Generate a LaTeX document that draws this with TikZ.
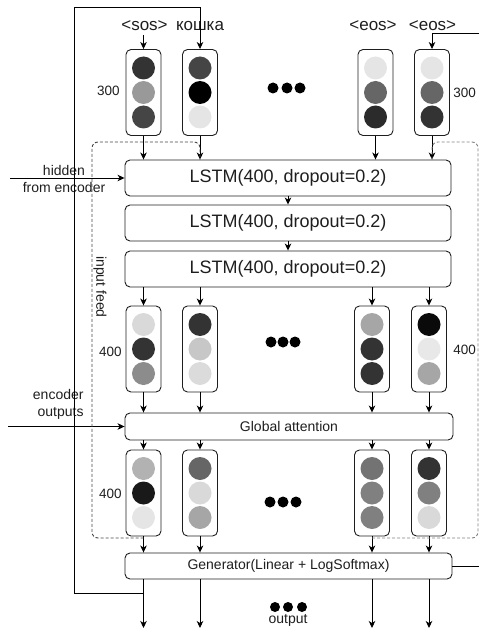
\documentclass[tikz,border=0pt]{standalone}
\usepackage{fontspec}
\setmainfont{Liberation Sans}
\usepackage{xcolor}
\usepackage{tikz}
\usetikzlibrary{arrows.meta}
\definecolor{inkgray}{RGB}{30, 30, 30}
\definecolor{feeddark}{RGB}{70, 70, 70}
\definecolor{feedlight}{RGB}{130, 130, 130}

% one vector: box with three shaded cells
\newcommand{\vecnode}[6]{%
  \node[vecbox] (#1) at (#2,#3) {};
  \fill[#4] (#1.center) ++(0,-24.5) circle (11.5pt);
  \fill[#5] (#1.center) circle (11.5pt);
  \fill[#6] (#1.center) ++(0,24.5) circle (11.5pt);
}

\begin{document}
\begin{tikzpicture}[x=1pt, y=-1pt, line width=0.9pt,
  >={Stealth[length=7pt, width=6.5pt, inset=2pt]},
  layer/.style={draw=inkgray, rounded corners=5pt, minimum width=326pt,
    minimum height=36pt, text=inkgray, font=\fontsize{18}{21}\selectfont},
  vecbox/.style={draw=inkgray, rounded corners=5pt, minimum width=35pt,
    minimum height=86pt},
  small/.style={text=inkgray, font=\fontsize{14}{17}\selectfont},
  word/.style={text=inkgray, anchor=base, font=\fontsize{17}{20}\selectfont},
  dim/.style={text=inkgray, inner sep=0pt, font=\fontsize{13.5}{16}\selectfont},
  feed/.style={dashed, dash pattern=on 3pt off 2pt, rounded corners=6pt}]
\useasboundingbox (0,0) rectangle (479,631);

% Input words
\node[word] (sos) at (144.5,31) {<sos>};
\node[word] (cat) at (200,31) {кошка};
\node[word] (eos1) at (373,31) {<eos>};
\node[word] (eos2) at (432.5,31) {<eos>};

% Embeddings
\vecnode{e1}{143.5}{92.5}{black!80}{black!40}{black!73}
\vecnode{e2}{200}{92.5}{black!73}{black}{black!10}
\vecnode{e3}{375.5}{92.5}{black!10}{black!60}{black!83}
\vecnode{e4}{432}{92.5}{black!10}{black!60}{black!80}
\node[dim, anchor=east] (emb1) at (120,91) {300};
\node[dim, anchor=west] (emb2) at (453,93) {300};
\foreach \x in {273,287,300} \fill (\x,88) circle (5.5pt);

% LSTM stack
\node[layer] (l1) at (288,178) {LSTM(400, dropout=0.2)};
\node[layer] (l2) at (288,223) {LSTM(400, dropout=0.2)};
\node[layer] (l3) at (288,269) {LSTM(400, dropout=0.2)};

% Hidden states
\vecnode{h1}{143.5}{349}{black!15}{black!80}{black!45}
\vecnode{h2}{200}{349}{black!80}{black!22}{black!14}
\vecnode{h3}{372}{349}{black!35}{black!80}{black!80}
\vecnode{h4}{429}{349}{black!96}{black!9}{black!35}
\node[dim, anchor=east] (hid1) at (122,352) {400};
\node[dim, anchor=west] (hid2) at (453,350) {400};
\foreach \x in {271,283,295} \fill (\x,342) circle (5.5pt);

% Attention
\node[layer, small, minimum width=328pt, minimum height=27pt] (att) at (289,426.5) {Global attention};

% Attentional states
\vecnode{a1}{143.5}{493}{black!30}{black!90}{black!10}
\vecnode{a2}{200}{493}{black!60}{black!15}{black!35}
\vecnode{a3}{372}{493}{black!55}{black!50}{black!50}
\vecnode{a4}{429}{493}{black!80}{black!50}{black!15}
\node[dim, anchor=east] (att1) at (122,494) {400};
\foreach \x in {270,283,296} \fill (\x,502) circle (5.5pt);

% Generator
\node[layer, small, minimum width=327pt, minimum height=26pt] (gen) at (288.5,566) {Generator(Linear + LogSoftmax)};
\foreach \x in {275,288,302} \fill (\x,607) circle (5pt);
\node[small] (outlbl) at (288,620) {output};

% Side inputs
\node[small, align=center] (hidlbl) at (64,178.5) {hidden\\from encoder};
\node[small, align=right, anchor=east, inner sep=0pt] (enclbl) at (84,404.5) {encoder\\outputs};
\node[small, rotate=-90] (feedlbl) at (100,287) {input feed};
\coordinate (hin) at (10,178);
\coordinate (ein) at (8,426.5);
\draw[->] (hin) -- (l1.west);
\draw[->] (ein) -- (att.west);

% Vertical flow
\draw[->] (e1.north |- sos.south) -- (e1.north);
\foreach \v in {e1,e2,e3,e4}
  \draw[->] (\v.south) -- (\v.south |- l1.north);
\draw[->] (l1.south) -- (l2.north);
\draw[->] (l2.south) -- (l3.north);
\foreach \v in {h1,h2,h3,h4} {
  \draw[->] (\v.north |- l3.south) -- (\v.north);
  \draw[->] (\v.south) -- (\v.south |- att.north);
}
\coordinate (bot) at (0,628);
\foreach \v in {a1,a2,a3,a4} {
  \draw[->] (\v.north |- att.south) -- (\v.north);
  \draw[->] (\v.south) -- (\v.south |- gen.north);
  \draw[->] (\v.south |- gen.south) -- (\v.south |- bot);
}

% Output fed back as next input
\coordinate (fb) at (74,593);
\draw[->] (a1.south |- fb) -- (fb) -- (74,7) -- (200,7) -- (e2.north);
\coordinate (redge) at (479,566);
\coordinate (tedge) at (479,33);
\draw (gen.east) -- (redge);
\draw[->] (tedge) -- (e4.north |- tedge) -- (e4.north);

% Input feed
\draw[feed, feeddark] (a1.south |- 0,538) -- (92,538) -- (92,142) -- (200,142) -- (e2.south |- l1.north);
\draw[feed, feedlight] (a3.south |- 0,538) -- (478,538) -- (478,142) -- (432,142) -- (e4.south |- l1.north);
\end{tikzpicture}
\end{document}
